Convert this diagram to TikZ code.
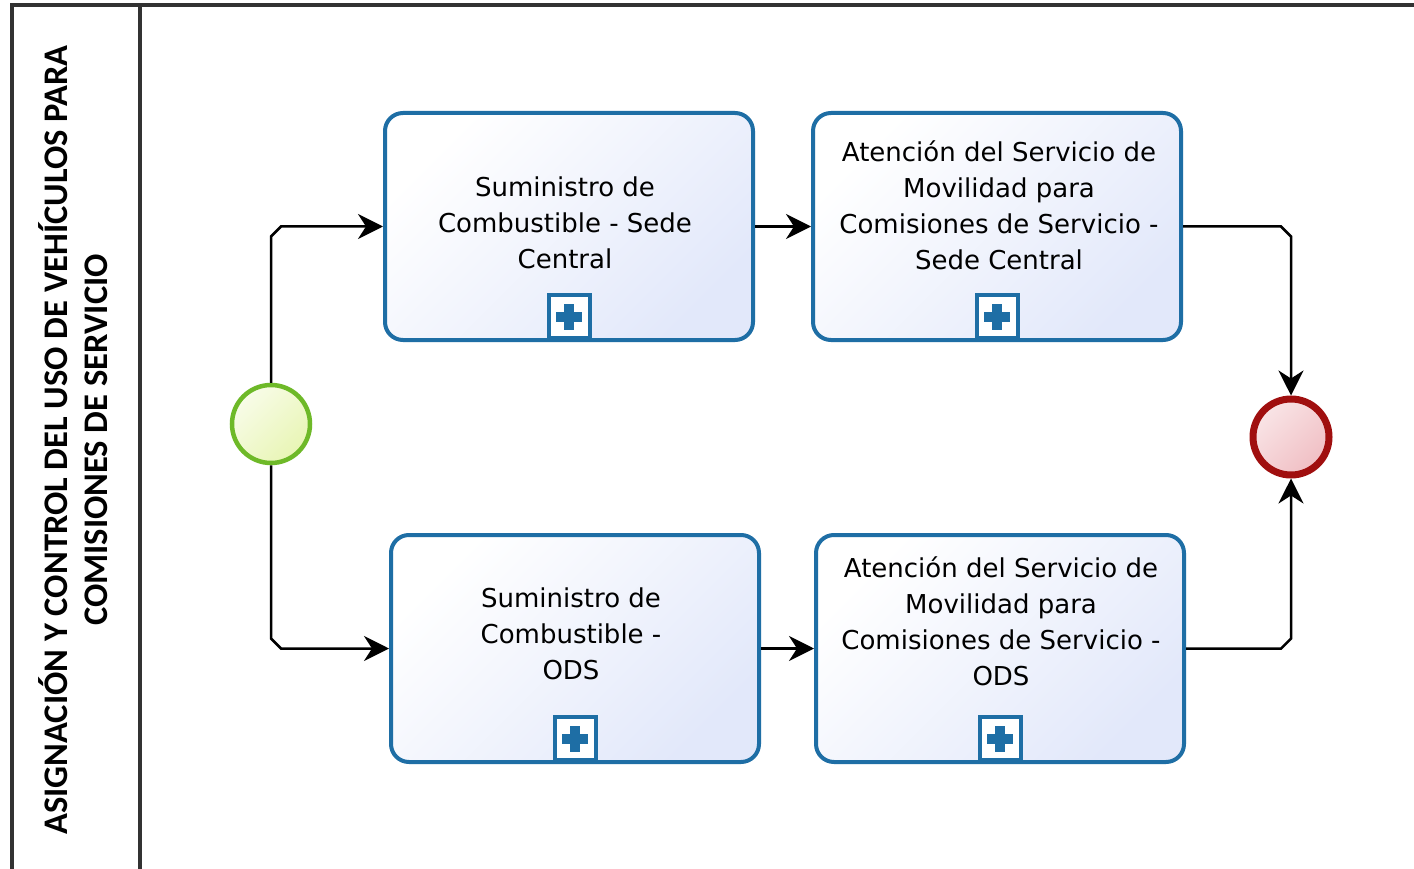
\documentclass[tikz,border=0pt]{standalone}
\usepackage{fontspec}
\setmainfont{DejaVu Sans}
\newfontfamily\hdrfont{Carlito}
\usetikzlibrary{arrows.meta,calc}
\definecolor{taskline}{RGB}{30,110,165}
\definecolor{taskfill}{RGB}{226,232,250}
\definecolor{startline}{RGB}{110,185,40}
\definecolor{startfill}{RGB}{232,245,180}
\definecolor{endline}{RGB}{160,15,15}
\definecolor{endfill}{RGB}{240,190,195}
\definecolor{poolline}{RGB}{50,50,50}
\tikzset{
  task/.style={draw=taskline, line width=4pt, rounded corners=18pt, minimum width=368pt, minimum height=227pt, inner sep=0pt,
    top color=white, bottom color=taskfill, shading angle=45},
  tasktext/.style={align=center, font=\fontsize{26}{36}\selectfont, inner sep=0pt},
  marker/.style={draw=taskline, line width=4pt, fill=white, minimum width=41pt, minimum height=43pt, inner sep=0pt},
  startev/.style={circle, draw=startline, line width=4.5pt, minimum size=78pt, inner sep=0pt,
    top color=white!70!startfill, bottom color=startfill, shading angle=45},
  endev/.style={circle, draw=endline, line width=7pt, minimum size=76pt, inner sep=0pt,
    top color=white!60!endfill, bottom color=endfill, shading angle=45},
  flow/.style={draw=black, line width=2.5pt, -{Stealth[length=25pt,width=25pt,inset=8pt]}},
  pool/.style={draw=poolline, line width=3.5pt},
  plusbar/.style={fill=taskline, draw=none}
}
\begin{document}
\begin{tikzpicture}[x=1pt,y=-1pt]
\clip (0,0) rectangle (1414,869);
\fill[white] (0,0) rectangle (1414,869);
% pool
\draw[pool] (12,880) -- (12,5) -- (1430,5);
\draw[pool] (140,5) -- (140,880);
\node[rotate=90, align=center, font=\hdrfont\bfseries\fontsize{34.5}{40}\selectfont, inner sep=0pt] (hdr) at (73,440)
  {ASIGNACIÓN Y CONTROL DEL USO DE VEHÍCULOS PARA\\COMISIONES DE SERVICIO};
% events
\node[startev] (s) at (271,424) {};
\node[endev] (e) at (1291,437) {};
% tasks
\node[task] (t1) at (569,226.5) {};
\node[task] (t2) at (997,226.5) {};
\node[task] (t3) at (575,648.5) {};
\node[task] (t4) at (1000,648.5) {};
\node[tasktext] (t1x) at (565,223) {Suministro de\\Combustible - Sede\\Central};
\node[tasktext] (t2x) at (999,205) {Atención del Servicio de\\Movilidad para\\Comisiones de Servicio -\\Sede Central};
\node[tasktext] (t3x) at (571,634) {Suministro de\\Combustible -\\ODS};
\node[tasktext] (t4x) at (1001,621) {Atención del Servicio de\\Movilidad para\\Comisiones de Servicio -\\ODS};
% markers
\foreach \t in {t1,t2,t3,t4}{
  \node[marker, anchor=south] (\t m) at ($(\t.south)+(0,-2)$) {};
  \fill[plusbar] ($(\t m.center)+(-13,-5)$) rectangle ($(\t m.center)+(13,5)$);
  \fill[plusbar] ($(\t m.center)+(-5,-13)$) rectangle ($(\t m.center)+(5,13)$);
}
% corner coordinates
\coordinate (k1) at (s.north |- t1.west);
\coordinate (k2) at (s.south |- t3.west);
\coordinate (k3) at (e.north |- t2.east);
\coordinate (k4) at (e.south |- t4.east);
% flows
\draw[flow] (s.north) -- ($(k1)+(0,10)$) -- ($(k1)+(10,0)$) -- (t1.west);
\draw[flow] (s.south) -- ($(k2)+(0,-10)$) -- ($(k2)+(10,0)$) -- (t3.west);
\draw[flow] (t1.east) -- (t2.west);
\draw[flow] (t3.east) -- (t4.west);
\draw[flow] (t2.east) -- ($(k3)+(-10,0)$) -- ($(k3)+(0,10)$) -- (e.north);
\draw[flow] (t4.east) -- ($(k4)+(-10,0)$) -- ($(k4)+(0,-10)$) -- (e.south);
\end{tikzpicture}
\end{document}
